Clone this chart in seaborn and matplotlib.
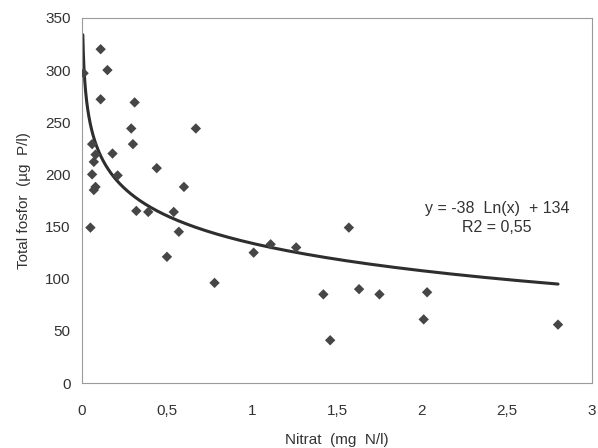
import numpy as np
import pandas as pd
import seaborn as sns
import matplotlib.pyplot as plt
from matplotlib.ticker import FuncFormatter

# Nitrat (mg N/l) vs total fosfor (ug P/l)
nitrat = [0.01, 0.11, 0.15, 0.11, 0.31, 0.29, 0.67, 0.30, 0.06, 0.18,
          0.08, 0.07, 0.44, 0.06, 0.21, 0.08, 0.07, 0.60, 0.32, 0.39,
          0.54, 0.05, 0.57, 0.50, 0.78, 1.01, 1.11, 1.26, 1.57, 1.42,
          1.63, 1.75, 2.03, 2.01, 1.46, 2.80]
fosfor = [297, 320, 300, 272, 269, 244, 244, 229, 229, 220,
          219, 212, 206, 200, 199, 188, 185, 188, 165, 164,
          164, 149, 145, 121, 96, 125, 133, 130, 149, 85,
          90, 85, 87, 61, 41, 56]

# logarithmic trend line as given on the chart
slope, intercept = -38, 134
x_min, x_max = 0.0052, 2.8

df = pd.DataFrame({"Nitrat": nitrat, "Fosfor": fosfor})
xs = np.linspace(np.log(x_min), np.log(x_max), 300)
trend = pd.DataFrame({"x": np.exp(xs)})
trend["y"] = slope * np.log(trend["x"]) + intercept

sns.set_style("white")
plt.rcParams["font.family"] = ["Liberation Sans", "DejaVu Sans"]

fig = plt.figure(figsize=(5.98, 4.48), dpi=100)
ax = fig.add_axes([0.137, 0.145, 0.853, 0.815])

sns.scatterplot(data=df, x="Nitrat", y="Fosfor", marker="D", s=28,
                color="#464646", edgecolor="none", ax=ax, zorder=3)
sns.lineplot(data=trend, x="x", y="y", color="#2e2e2e", linewidth=2.2,
             ax=ax, zorder=2)

ax.set_xlim(0, 3)
ax.set_ylim(0, 350)
ax.set_xticks(np.arange(0, 3.01, 0.5))
ax.set_yticks(np.arange(0, 351, 50))
ax.xaxis.set_major_formatter(FuncFormatter(lambda v, p: f"{v:g}".replace(".", ",")))
ax.tick_params(length=0, labelsize=11, colors="#333333", pad=15)
ax.tick_params(axis="y", pad=8)

for s in ax.spines.values():
    s.set_color("#9a9a9a")
    s.set_linewidth(0.8)

ax.set_xlabel("Nitrat  (mg  N/l)", fontsize=11, color="#333333", labelpad=11)
ax.set_ylabel("Total fosfor  (µg  P/l)", fontsize=11, color="#333333", labelpad=10)

ax.text(2.44, 158, "y = -38  Ln(x)  + 134\nR2 = 0,55", ha="center", va="center",
        fontsize=11.5, color="#333333", linespacing=1.35)

fig.savefig("out.png", dpi=100)
